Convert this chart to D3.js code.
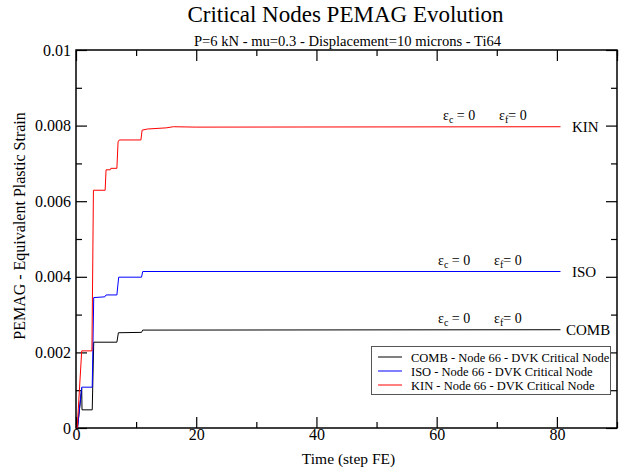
<!DOCTYPE html>
<html>
<head>
<meta charset="utf-8">
<script src="https://cdn.jsdelivr.net/npm/d3@7"></script>
<style>
  html, body { margin: 0; padding: 0; background: #fff; }
  svg { display: block; }
  svg text { font-family: 'Liberation Serif', 'Times New Roman', Times, 'DejaVu Serif', serif !important; fill: #000; }
</style>
</head>
<body>
<svg id="chart" width="624" height="473"></svg>
<script>
// ---- data ----
const combTime   = [0.25, 0.95, 1.0, 2.7, 2.95, 6.8, 7.05, 10.9, 11.1, 80.6];
const combValues = [0, 0.00105, 0.00048, 0.00048, 0.00227, 0.00227, 0.00252, 0.00253, 0.00259, 0.00260];

const isoTime    = [0.25, 0.95, 2.7, 2.95, 4.8, 5.0, 6.8, 7.1, 10.9, 11.1, 80.6];
const isoValues  = [0, 0.00108, 0.00108, 0.00345, 0.00347, 0.00352, 0.00352, 0.00399, 0.00399, 0.00414, 0.00414];

const kinTime    = [0.2, 0.95, 2.65, 2.9, 4.85, 5.0, 5.7, 5.8, 6.8, 7.0, 7.2, 10.8, 11.0, 11.9, 15.0, 16.2, 20, 80.6];
const kinValues  = [0, 0.00204, 0.00204, 0.00629, 0.00629, 0.00683, 0.00683, 0.00687, 0.00687, 0.00757, 0.00762, 0.00762, 0.00788, 0.00791, 0.00794, 0.00797, 0.00796, 0.00797];

const seriesNames  = ["COMB", "ISO", "KIN"];
const legendLabels = ["COMB - Node 66 - DVK Critical Node", "ISO - Node 66 - DVK Critical Node", "KIN - Node 66 - DVK Critical Node"];
const seriesColors = ["#000000", "#0000ff", "#ff0000"];

const xMajorTicks = [0, 20, 40, 60, 80];
const xMinorTicks = [10, 30, 50, 70, 90];
const yMajorTicks = [0, 0.002, 0.004, 0.006, 0.008, 0.01];
const yMinorTicks = [0.001, 0.003, 0.005, 0.007, 0.009];
const yTickLabels = ["0", "0.002", "0.004", "0.006", "0.008", "0.01"];

const titleText    = "Critical Nodes PEMAG Evolution";
const subtitleText = "P=6 kN - mu=0.3 - Displacement=10 microns - Ti64";
const xLabelText   = "Time (step FE)";
const yLabelText   = "PEMAG - Equivalent Plastic Strain";

// ---- layout ----
const FONT = "'Liberation Serif', 'Times New Roman', Times, serif";
const svg = d3.select("#chart").attr("font-family", FONT);
const L = 76, R = 617, T = 50, B = 428;
const x = d3.scaleLinear().domain([0, 90]).range([L, R]);
const y = d3.scaleLinear().domain([0, 0.01]).range([B, T]);

// frame
svg.append("rect").attr("x", L).attr("y", T).attr("width", R - L).attr("height", B - T)
  .attr("fill", "none").attr("stroke", "#000").attr("stroke-width", 1.5);

function styleAxis(g) {
  g.attr("font-family", FONT);
  g.select(".domain").remove();
  g.selectAll(".tick line").attr("stroke", "#000").attr("stroke-width", 1.2);
  g.selectAll(".tick text").attr("font-family", FONT).style("font-size", "16px");
}

// bottom axis (labels + inward ticks)
svg.append("g").attr("transform", `translate(0,${B})`)
  .call(d3.axisBottom(x).tickValues(xMajorTicks).tickSize(-11).tickPadding(1).tickFormat(d3.format("d")))
  .call(styleAxis);
svg.append("g").attr("transform", `translate(0,${B})`)
  .call(d3.axisBottom(x).tickValues(xMinorTicks).tickSize(-6).tickFormat(""))
  .call(styleAxis);
// top axis ticks
svg.append("g").attr("transform", `translate(0,${T})`)
  .call(d3.axisTop(x).tickValues(xMajorTicks.concat([90])).tickSize(-11).tickFormat(""))
  .call(styleAxis);
svg.append("g").attr("transform", `translate(0,${T})`)
  .call(d3.axisTop(x).tickValues(xMinorTicks).tickSize(-6).tickFormat(""))
  .call(styleAxis);
// left axis
svg.append("g").attr("transform", `translate(${L},0)`)
  .call(d3.axisLeft(y).tickValues(yMajorTicks).tickSize(-11).tickPadding(5)
    .tickFormat((d, i) => yTickLabels[i]))
  .call(styleAxis);
svg.append("g").attr("transform", `translate(${L},0)`)
  .call(d3.axisLeft(y).tickValues(yMinorTicks).tickSize(-6).tickFormat(""))
  .call(styleAxis);
// right axis ticks
svg.append("g").attr("transform", `translate(${R},0)`)
  .call(d3.axisRight(y).tickValues(yMajorTicks).tickSize(-11).tickFormat(""))
  .call(styleAxis);
svg.append("g").attr("transform", `translate(${R},0)`)
  .call(d3.axisRight(y).tickValues(yMinorTicks).tickSize(-6).tickFormat(""))
  .call(styleAxis);

// titles
svg.append("text").attr("x", (L + R) / 2 - 1).attr("y", 22).attr("text-anchor", "middle")
  .style("font-size", "23px").text(titleText);
svg.append("text").attr("x", (L + R) / 2 + 1).attr("y", 46).attr("text-anchor", "middle")
  .style("font-size", "14.6px").text(subtitleText);
svg.append("text").attr("x", (L + R) / 2 + 2).attr("y", 464).attr("text-anchor", "middle")
  .style("font-size", "15.5px").text(xLabelText);
svg.append("text").attr("transform", `translate(25,${(T + B) / 2 - 13}) rotate(-90)`).attr("text-anchor", "middle")
  .style("font-size", "16px").text(yLabelText);

// series
const times = [combTime, isoTime, kinTime];
const vals  = [combValues, isoValues, kinValues];
const line = d3.line().x(d => x(d[0])).y(d => y(d[1]));
seriesNames.forEach((name, i) => {
  const pts = times[i].map((t, j) => [t, vals[i][j]]);
  svg.append("path").datum(pts).attr("d", line)
    .attr("fill", "none").attr("stroke", seriesColors[i]).attr("stroke-width", 1);
});

// end labels and epsilon annotations
const endLabelX   = [566, 572, 572];
const annotX      = [438, 438, 443];
seriesNames.forEach((name, i) => {
  const lastV = vals[i][vals[i].length - 1];
  const yy = y(lastV);
  svg.append("text").attr("x", endLabelX[i]).attr("y", yy + 5)
    .style("font-size", "15px").text(name);
  const a1 = svg.append("text").attr("x", annotX[i]).attr("y", yy - 7).style("font-size", "14px");
  a1.append("tspan").text("ε");
  a1.append("tspan").attr("dy", 3).style("font-size", "10px").text("c");
  a1.append("tspan").attr("dy", -3).text(" = 0");
  const a2 = svg.append("text").attr("x", annotX[i] + 56).attr("y", yy - 7).style("font-size", "14px");
  a2.append("tspan").text("ε");
  a2.append("tspan").attr("dy", 3).style("font-size", "10px").text("f");
  a2.append("tspan").attr("dy", -3).text("= 0");
});

// legend
const lg = svg.append("g");
lg.append("rect").attr("x", 371.5).attr("y", 346.5).attr("width", 239).attr("height", 48)
  .attr("fill", "#fff").attr("stroke", "#555").attr("stroke-width", 1);
legendLabels.forEach((lab, i) => {
  const ly = 357 + i * 14;
  lg.append("line").attr("x1", 378).attr("x2", 402).attr("y1", ly).attr("y2", ly)
    .attr("stroke", seriesColors[i]).attr("stroke-width", 1);
  lg.append("text").attr("x", 411).attr("y", ly + 4.5).style("font-size", "12.5px").text(lab);
});
</script>
</body>
</html>
